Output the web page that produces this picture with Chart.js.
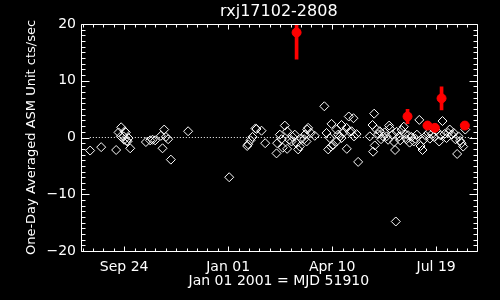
<!DOCTYPE html>
<html>
<head>
<meta charset="utf-8">
<script src="https://cdn.jsdelivr.net/npm/chart.js"></script>
<style>
html, body { margin: 0; padding: 0; background: #000; }
#canvas-1 { display: block; }
</style>
</head>
<body>
<canvas id="canvas-1" width="500" height="300"></canvas>
<script>
// days since Jan 01 2001 (MJD 51910)
var asmDays = [
    -132.7, -122.1, -107.7, -105.4, -102.9, -103.2, -100.6, -100, -98.4, -97.4, -95.8, -96.8, -94.2, -99.4,
    -79.1, -75, -72.7, -70.2, -64.7, -63.1, -61.5, -59.9, -57.7, -55.1, -38.5,
    1, 18.3, 19.2, 21.5, 23.4, 26.3, 27.3, 32.1, 35.6,
    46.5, 47.1, 49.7, 51.3, 52.5, 54.5, 56.7, 56.7, 58.7, 60.9, 62, 64.1, 65.8, 67.3, 68.9, 70.5, 73.1, 73.8, 75.4, 76, 76.9, 79.5, 83.3,
    92.5, 94.6, 96.2, 97.8, 98.8, 99.4, 101, 104.2, 104.2, 105.8, 107.5, 109, 109, 111, 113.8, 114.1, 116, 117, 118.7, 120.5, 121, 123.5, 125,
    136.2, 138.8, 139.4, 140.4, 141, 142.7, 144.2, 145.8, 147, 149, 150.5, 152.3, 153.8, 154.8, 155.5, 158, 159.5, 160.5, 161.2, 162,
    164.4, 165.5, 166.7, 168.9, 170, 171.5, 173, 174.5, 176.3, 178.5, 180, 181.5, 183.8, 185, 186.9, 188, 190, 192.5, 194, 196, 198,
    200, 202.9, 204, 206.1, 208, 210, 211.5, 213.1, 215, 217, 218.5, 220.2, 221.5, 223, 224.4, 226, 228
];
var asmRate = [
    -2.3, -1.7, -2.2, 0.9, 1.8, 0.2, 0.2, -0.4, 0.9, -0.6, -0.1, -0.7, -1.9, 1.1,
    -0.8, -0.5, -0.4, -0.5, 0.3, -1.9, 1.4, 0.1, -0.3, -3.9, 1.1,
    -7, -1.5, -1.2, -0.5, 0.1, 1.6, 1.5, 1.2, -1.0,
    -2.8, -1.0, 0.5, -0.3, -1.8, 2.1, 1.1, -2.0, -0.4, -0.7, 0.1, 0.5, -1.0, -2.1, -1.6, -0.2, -0.3, 0.5, -0.7, 1.4, 1.7, 0.8, 0.3,
    5.5, 0.8, -2.1, -0.1, -1.6, 2.4, -1.3, 1.4, -0.7, 0.5, 0.2, 2.2, -0.1, 0.9, 1.7, -2.0, 3.7, 1.0, 1.1, 3.4, 0.2, 0.6, -4.3,
    0.2, 2.2, -2.5, 4.2, -1.4, 1.4, 0.6, 1.1, -0.3, 0.2, 0.9, 0.2, -0.4, 2.1, 1.6, 0.5, -0.8, -2.2, -14.8, 1.0,
    0.2, -0.5, 1.3, 1.9, 0.6, -0.3, 0.4, -0.9, 0.1, -0.7, -0.2, 0.5, 3.1, -1.5, -2.2, -0.4, 0.3, 0.8, -0.2, 0.6, 0.1,
    1.2, -0.7, 0.4, 2.9, 0.6, -0.1, 0.8, 1.4, 0.5, 0.8, -0.3, -2.9, 0.2, -0.6, -1.0, -1.6, 1.4
];

// days with a significant detection (red)
var flareDays = [65.8, 172.5, 191.7, 198.8, 205.2, 227.6];
var flareRate = [18.5, 3.7, 2.1, 1.7, 6.9, 2.1];
var flareErr = [4.7, 1.25, 0.5, 0.5, 2.05, 0.4];

// dotted zero level, over the span of the data
var zeroDays = [-133, 235.5];

var tickDays = [-100, 0, 100, 200];
var tickLabels = ['Sep 24', 'Jan 01', 'Apr 10', 'Jul 19'];
var rateTicks = [-20, -10, 0, 10, 20];

var xMin = -141.5;
var xMax = 239;

Chart.defaults.color = '#fff';
Chart.defaults.font.family = 'DejaVu Sans';

// IDL style box with inward ticks on all four sides
var framePlugin = {
    id: 'frame',
    afterDatasetsDraw: function (chart) {
        var ctx = chart.ctx;
        var a = chart.chartArea;
        var xs = chart.scales.x;
        var ys = chart.scales.y;
        var left = Math.round(a.left) + 0.5;
        var right = Math.round(a.right) + 0.5;
        var top = Math.round(a.top) + 0.5;
        var bottom = Math.round(a.bottom) + 0.5;
        ctx.save();
        ctx.strokeStyle = '#fff';
        ctx.lineWidth = 1;
        ctx.beginPath();
        ctx.rect(left, top, right - left, bottom - top);
        for (var d = Math.ceil(xs.min / 10) * 10; d <= xs.max; d += 10) {
            var px = Math.round(xs.getPixelForValue(d)) + 0.5;
            var len = d % 100 === 0 ? 5 : 3;
            ctx.moveTo(px, bottom);
            ctx.lineTo(px, bottom - len);
            ctx.moveTo(px, top);
            ctx.lineTo(px, top + len);
        }
        for (var v = -20; v <= 20; v++) {
            var py = Math.round(ys.getPixelForValue(v)) + 0.5;
            var l = v % 10 === 0 ? 8 : 4;
            ctx.moveTo(left, py);
            ctx.lineTo(left + l, py);
            ctx.moveTo(right, py);
            ctx.lineTo(right - l, py);
        }
        ctx.stroke();
        ctx.restore();
    }
};

var asmPoints = asmDays.map(function (d, i) { return { x: d, y: asmRate[i] }; });
var flarePoints = flareDays.map(function (d, i) { return { x: d, y: flareRate[i] }; });
var flareBars = flareDays.map(function (d, i) { return { x: d, y: [flareRate[i] - flareErr[i], flareRate[i] + flareErr[i]] }; });
var zeroLine = zeroDays.map(function (d) { return { x: d, y: 0 }; });

var lightCurve = new Chart(document.getElementById('canvas-1'), {
    type: 'scatter',
    data: {
        datasets: [{
            label: 'detections',
            data: flarePoints,
            pointStyle: 'circle',
            pointRadius: 4.5,
            backgroundColor: '#ff0000',
            borderColor: '#ff0000',
            borderWidth: 1
        }, {
            type: 'bar',
            label: 'errors',
            data: flareBars,
            backgroundColor: '#ff0000',
            barThickness: 3
        }, {
            label: 'ASM',
            data: asmPoints,
            pointStyle: 'rectRot',
            pointRadius: 4.5,
            backgroundColor: 'rgba(0,0,0,0)',
            borderColor: '#fff',
            borderWidth: 1
        }, {
            type: 'line',
            label: 'zero',
            data: zeroLine,
            borderColor: '#fff',
            borderWidth: 1,
            borderDash: [1, 2],
            pointRadius: 0
        }]
    },
    options: {
        responsive: false,
        animation: false,
        events: [],
        layout: { padding: 0 },
        plugins: {
            legend: { display: false },
            tooltip: { enabled: false }
        },
        scales: {
            x: {
                type: 'linear',
                position: 'bottom',
                min: xMin,
                max: xMax,
                offset: false,
                grid: { display: false, drawTicks: false, offset: false },
                border: { display: false },
                afterBuildTicks: function (scale) {
                    scale.ticks = tickDays.map(function (d) { return { value: d }; });
                },
                afterFit: function (scale) { scale.height = 49; },
                ticks: {
                    autoSkip: false,
                    maxRotation: 0,
                    padding: 8,
                    font: { size: 14 },
                    callback: function (value) { return tickLabels[tickDays.indexOf(value)]; }
                },
                title: {
                    display: true,
                    text: 'Jan 01 2001 = MJD 51910',
                    font: { size: 14 },
                    padding: { top: 0, bottom: 10 }
                }
            },
            x2: {
                type: 'linear',
                position: 'top',
                min: xMin,
                max: xMax,
                offset: false,
                grid: { display: false, drawTicks: false },
                border: { display: false },
                ticks: { display: false },
                afterFit: function (scale) { scale.height = 24; },
                title: {
                    display: true,
                    text: 'rxj17102-2808',
                    font: { size: 16 },
                    padding: { top: 2, bottom: 0 }
                }
            },
            y: {
                type: 'linear',
                position: 'left',
                min: -20,
                max: 20,
                grid: { display: false, drawTicks: false },
                border: { display: false },
                afterBuildTicks: function (scale) {
                    scale.ticks = rateTicks.map(function (v) { return { value: v }; });
                },
                afterFit: function (scale) { scale.width = 81; },
                ticks: {
                    padding: 5,
                    font: { size: 14 },
                    callback: function (value) { return value < 0 ? '\u2212' + Math.abs(value) : String(value); }
                },
                title: {
                    display: true,
                    text: 'One-Day Averaged ASM Unit cts/sec',
                    font: { size: 13 },
                    padding: { top: 24, bottom: 0 }
                }
            },
            y2: {
                type: 'linear',
                position: 'right',
                min: -20,
                max: 20,
                grid: { display: false, drawTicks: false },
                border: { display: false },
                ticks: { display: false },
                afterFit: function (scale) { scale.width = 23.3; }
            }
        }
    },
    plugins: [framePlugin]
});
</script>
</body>
</html>
